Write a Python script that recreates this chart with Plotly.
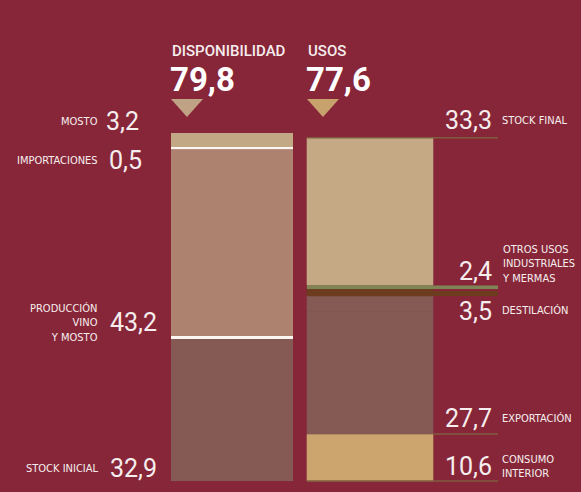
import numpy as np
import plotly.graph_objects as go

# ---- data (millones de hectolitros) ----
disp_labels = ["STOCK INICIAL", "PRODUCCIÓN<br>VINO<br>Y MOSTO", "IMPORTACIONES", "MOSTO"]
disp_values = [32.9, 43.2, 0.5, 3.2]
disp_total = 79.8

usos_labels = ["CONSUMO<br>INTERIOR", "EXPORTACIÓN", "DESTILACIÓN",
               "OTROS USOS<br>INDUSTRIALES<br>Y MERMAS", "STOCK FINAL"]
usos_values = [10.6, 27.7, 3.5, 2.4, 33.3]
usos_total = 77.6

# ---- style ----
W, H = 581, 492
BG = "#872639"
TXT = "#f6eeee"
disp_colors = ["#855954", "#ad8370", "#fbf6f0", "#c3a886"]
usos_colors = ["#cca46e", "#855954", "#855954", "#6d3b1e", "#c4a984"]
LINE = "#7f5c3f"
GREEN = "#7e8456"
NUM_FONT = "Roboto"
SMALL_FONT = "Liberation Sans Narrow, DejaVu Sans Condensed, Roboto"

# pixel layout of the two columns
L_X0, L_X1 = 171, 293
R_X0, R_X1 = 307, 433
BASE_PX = 481          # pixel row of value 0
L_SCALE = 4.36         # px per unit, left column
R_SCALE = 4.43         # px per unit, right column
LINE_END = 498


def yrange(scale):
    lo = -(H - BASE_PX) / scale
    return [lo, lo + H / scale]


def py(p):
    """pixel row -> paper fraction"""
    return 1 - p / H


fig = go.Figure()

d_base = np.concatenate([[0], np.cumsum(disp_values)[:-1]])
for lab, v, b, c in zip(disp_labels, disp_values, d_base, disp_colors):
    fig.add_trace(go.Bar(x=[(L_X0 + L_X1) / 2], y=[v], base=[b], width=L_X1 - L_X0,
                         marker=dict(color=c, line=dict(width=0)),
                         name=lab.replace("<br>", " "), yaxis="y", hoverinfo="skip"))

u_base = np.concatenate([[0], np.cumsum(usos_values)[:-1]])
for lab, v, b, c in zip(usos_labels, usos_values, u_base, usos_colors):
    fig.add_trace(go.Bar(x=[(R_X0 + R_X1) / 2], y=[v], base=[b], width=R_X1 - R_X0,
                         marker=dict(color=c, line=dict(width=0.6, color=c)),
                         name=lab.replace("<br>", " "), yaxis="y2", hoverinfo="skip"))

shapes = []
# white divider between stock inicial and producción
shapes.append(dict(type="line", xref="x", yref="y", x0=L_X0, x1=L_X1,
                   y0=disp_values[0], y1=disp_values[0],
                   line=dict(color="#fbf6f0", width=3)))

u_cum = np.cumsum(usos_values)
# leader lines on the right column
for yv, x0 in [(u_cum[-1], R_X0), (u_cum[0], R_X1), (0, R_X0)]:
    shapes.append(dict(type="line", xref="x", yref="y2", x0=x0, x1=LINE_END,
                       y0=yv, y1=yv, line=dict(color=LINE, width=1.6)))
# destilación / otros usos band leaders
shapes.append(dict(type="line", xref="x", yref="y2", x0=R_X1, x1=LINE_END,
                   y0=u_cum[2] + 0.55, y1=u_cum[2] + 0.55,
                   line=dict(color=usos_colors[3], width=5)))
shapes.append(dict(type="line", xref="x", yref="y2", x0=R_X0, x1=LINE_END,
                   y0=u_cum[3] - 0.45, y1=u_cum[3] - 0.45,
                   line=dict(color=GREEN, width=3.5)))

# header triangles
for x0, x1, col in [(171, 203, "#c0a384"), (307, 339, "#c8a26c")]:
    xm = (x0 + x1) / 2
    shapes.append(dict(type="path", xref="x", yref="paper",
                       path=f"M {x0},{py(99)} L {x1},{py(99)} L {xm},{py(117)} Z",
                       fillcolor=col, line=dict(width=0)))

ann = []


def num(text, x, y, anchor):
    ann.append(dict(text=text, x=x, y=py(y), xref="x", yref="paper", xanchor=anchor,
                    yanchor="middle", showarrow=False,
                    font=dict(family=NUM_FONT, size=25, color=TXT)))


def small(text, x, y, anchor):
    ann.append(dict(text=text, x=x, y=py(y), xref="x", yref="paper", xanchor=anchor,
                    yanchor="middle", showarrow=False, align="right" if anchor == "right" else "left",
                    font=dict(family=SMALL_FONT, size=11, color=TXT)))


def fmt(v):
    return f"{v:.1f}".replace(".", ",")


def header(text, x, y, size, weight, color):
    ann.append(dict(text=text, x=x, y=py(y), xref="x", yref="paper",
                    xanchor="left", yanchor="middle", showarrow=False,
                    font=dict(family="Roboto", size=size, color=color, weight=weight)))


# headers
header("DISPONIBILIDAD", 170, 51, 15, 500, TXT)
header(fmt(disp_total), 168, 79, 33, 700, "#ffffff")
header("USOS", 306, 51, 15, 500, TXT)
header(fmt(usos_total), 304, 79, 33, 700, "#ffffff")

# left column labels
left_pos = {"MOSTO": (141, 121), "IMPORTACIONES": (144, 161),
            "PRODUCCIÓN<br>VINO<br>Y MOSTO": (159, 322), "STOCK INICIAL": (159, 468)}
for lab, v in zip(disp_labels, disp_values):
    xn, yy = left_pos[lab]
    num(fmt(v), xn, yy, "right")
    small(lab, 100, yy + (1 if "<br>" in lab else 0), "right")

# right column labels
right_pos = {"STOCK FINAL": (120, 120), "OTROS USOS<br>INDUSTRIALES<br>Y MERMAS": (271, 264),
             "DESTILACIÓN": (311, 310), "EXPORTACIÓN": (418, 418),
             "CONSUMO<br>INTERIOR": (466, 466)}
for lab, v in zip(usos_labels, usos_values):
    yn, yl = right_pos[lab]
    num(fmt(v), 494, yn, "right")
    small(lab, 500, yl, "left")

fig.update_layout(
    width=W, height=H, margin=dict(l=0, r=0, t=0, b=0),
    paper_bgcolor=BG, plot_bgcolor=BG, showlegend=False, barmode="overlay",
    xaxis=dict(range=[0, W], visible=False, fixedrange=True),
    yaxis=dict(range=yrange(L_SCALE), visible=False, fixedrange=True),
    yaxis2=dict(range=yrange(R_SCALE), visible=False, overlaying="y", fixedrange=True),
    shapes=shapes, annotations=ann,
)

fig.write_html("out.html")
